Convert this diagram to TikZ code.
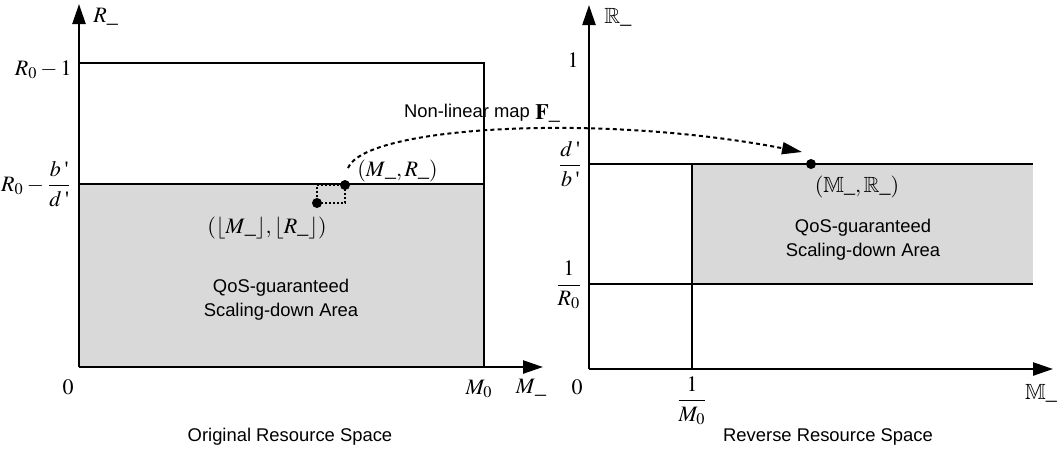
\documentclass[tikz,border=0pt]{standalone}
\usepackage{mathptmx}
\usepackage{amssymb}
\usepackage{fontspec}
\setmainfont{Liberation Serif}
\setsansfont{Liberation Sans}
\definecolor{qosgray}{RGB}{217,217,217}
\usetikzlibrary{arrows.meta,positioning}
\newcommand{\us}{\mbox{\_}}
\newcommand{\tk}{\mbox{\,\textquotesingle}}

\begin{document}
\begin{tikzpicture}[x=0.5pt,y=-0.5pt,font=\fontsize{11}{13}\selectfont,
  axis/.style={line width=1.2pt,-{Triangle[length=10pt,width=6.5pt]}},
  border/.style={line width=1pt},
  dotpt/.style={circle,fill,inner sep=0pt,minimum size=5pt},
  gridline/.style={line width=0.6pt,dash pattern=on 1pt off 1pt},
  mapline/.style={line width=1pt,dash pattern=on 2pt off 1.6pt,-{Triangle[length=10pt,width=6pt]}},
  caption/.style={font=\sffamily\fontsize{9.2}{12}\selectfont,align=center},
  lbl/.style={inner sep=1pt}]
  \useasboundingbox (0,0) rectangle (1059,452);
  % original resource space
  \coordinate (o1) at (79,367);
  \coordinate (y1) at (79,4);
  \coordinate (x1) at (543,367);
  \fill[qosgray] (79,184) rectangle (484,367);
  \draw[border] (79,63) -| (484,367);
  \draw[border] (79,184) -- (484,184);
  \draw[axis] (o1) -- (y1);
  \draw[axis] (o1) -- (x1);
  \node[dotpt] (mr) at (345,185) {};
  \node[dotpt] (fl) at (317,203) {};
  \draw[gridline] (mr.center) |- (fl.center) |- (mr.center);
  \node[lbl,anchor=west] (ry) at (91,17) {$R\us$};
  \node[lbl,anchor=east] (rtop) at (74,70) {$R_0-1$};
  \node[lbl,anchor=east] (rmid) at (74,184) {$\displaystyle R_0-\frac{b\tk}{d\tk}$};
  \node[lbl] (zero1) at (68,387) {$0$};
  \node[lbl] (m0) at (479,389) {$M_0$};
  \node[lbl] (mx) at (531,388) {$M\us$};
  \node[lbl,anchor=west] (mrl) at (355,171) {$(M\us,R\us)$};
  \node[lbl] (fll) at (267,228) {$(\lfloor M\us\rfloor,\lfloor R\us\rfloor)$};
  \node[caption] (area1) at (281,300) {QoS-guaranteed\\Scaling-down Area};
  \node[caption] (cap1) at (290,437) {Original Resource Space};
  % reverse resource space
  \coordinate (o2) at (589,369);
  \coordinate (y2) at (589,5);
  \coordinate (x2) at (1053,369);
  \fill[qosgray] (692,164) rectangle (1033,284);
  \draw[border] (589,164) -- (1033,164);
  \draw[border] (589,284) -- (1033,284);
  \draw[border] (692,164) -- (692,369);
  \draw[axis] (o2) -- (y2);
  \draw[axis] (o2) -- (x2);
  \node[dotpt] (mr2) at (811,164) {};
  \node[lbl,anchor=west] (ry2) at (602,17) {$\mathbb{R}\us$};
  \node[lbl] (one) at (573,60) {$1$};
  \node[lbl,anchor=east] (db) at (585,164) {$\displaystyle\frac{d\tk}{b\tk}$};
  \node[lbl,anchor=east] (ir) at (585,285) {$\displaystyle\frac{1}{R_0}$};
  \node[lbl] (zero2) at (577,387) {$0$};
  \node[lbl,anchor=north] (im) at (692,374) {$\displaystyle\frac{1}{M_0}$};
  \node[lbl] (mx2) at (1041,393) {$\mathbb{M}\us$};
  \node[lbl] (mrl2) at (857,187) {$(\mathbb{M}\us,\mathbb{R}\us)$};
  \node[caption] (area2) at (863,240) {QoS-guaranteed\\Scaling-down Area};
  \node[caption] (cap2) at (828,437) {Reverse Resource Space};
  % non-linear map
  \coordinate (mapstart) at (348,168);
  \coordinate (mapend) at (802,152);
  \draw[mapline] (mapstart) .. controls (365,126) and (600,113) .. (mapend);
  \node[caption,anchor=west] (maptxt) at (397,113) {Non-linear map};
  \node[lbl,anchor=west] (mapf) at (533,114) {$\mathbf{F}\us$};
\end{tikzpicture}
\end{document}
